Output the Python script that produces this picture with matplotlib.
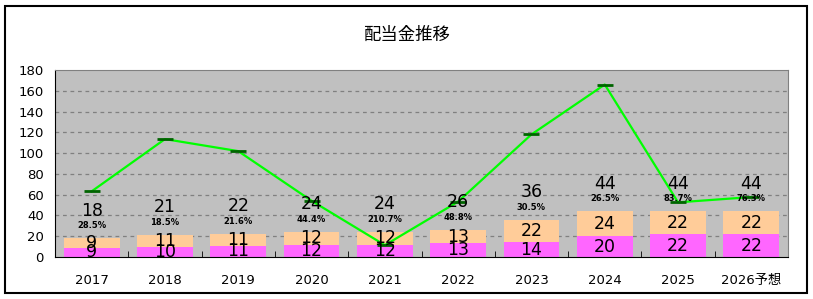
import matplotlib.pyplot as plt
from matplotlib.patches import Rectangle
import numpy as np

plt.rcParams['font.family'] = ['DejaVu Sans', 'Noto Sans CJK JP']

# data
years = ['2017', '2018', '2019', '2020', '2021', '2022', '2023', '2024', '2025', '2026予想']
interim = [9, 10, 11, 12, 12, 13, 14, 20, 22, 22]
year_end = [9, 11, 11, 12, 12, 13, 22, 24, 22, 22]
payout = ['28.5%', '18.5%', '21.6%', '44.4%', '210.7%', '48.8%', '30.5%', '26.5%', '83.7%', '76.3%']
eps = [63.2, 113.5, 101.9, 54.1, 11.4, 53.3, 118.0, 166.0, 52.6, 57.7]

total = [a + b for a, b in zip(interim, year_end)]
x = np.arange(len(years))

fig = plt.figure(figsize=(8.13, 2.99), dpi=100)
fig.patches.append(Rectangle((5 / 813, 6 / 299), 802 / 813, 287 / 299,
                             transform=fig.transFigure, fill=False,
                             edgecolor='black', linewidth=1.5))

ax = fig.add_axes([55 / 813, 42 / 299, 733 / 813, 187 / 299])
ax.set_facecolor('#c0c0c0')

w = 0.76
ax.bar(x, interim, width=w, color='#ff66ff', zorder=2)
ax.bar(x, year_end, width=w, bottom=interim, color='#ffcc99', zorder=2)

ax.plot(x, eps, color='#00ff00', linewidth=1.6, zorder=4)
ax.plot(x, eps, linestyle='none', marker='_', markersize=11,
        markeredgewidth=2, color='#006400', zorder=5)

for i in range(len(x)):
    ax.text(x[i], interim[i] / 2, str(interim[i]), ha='center', va='center',
            fontsize=12.5, zorder=6)
    ax.text(x[i], interim[i] + year_end[i] / 2, str(year_end[i]), ha='center',
            va='center', fontsize=12.5, zorder=6)
    ax.annotate(str(total[i]), (x[i], total[i]), xytext=(0, 20),
                textcoords='offset points', ha='center', va='center',
                fontsize=12.5, zorder=6)
    ax.annotate(payout[i], (x[i], total[i]), xytext=(0, 9),
                textcoords='offset points', ha='center', va='center',
                fontsize=6, fontweight='bold', zorder=6)

ax.set_xlim(-0.5, 9.5)
ax.set_ylim(0, 180)
ax.set_yticks(range(0, 181, 20))
ax.set_xticks(x)
ax.set_xticklabels(years, fontsize=9.5)
ax.tick_params(axis='x', length=0, pad=12)
ax.tick_params(axis='y', length=0, labelsize=9.5, pad=8)
ax.set_xticks(np.arange(0.5, 9.5, 1), minor=True)
ax.tick_params(axis='x', which='minor', direction='in', length=4, color='black')

for v in range(20, 180, 20):
    ax.axhline(v, color='#808080', linestyle=(0, (3, 3)), linewidth=0.9, zorder=1)

ax.spines['top'].set_color('#808080')
ax.spines['right'].set_color('#808080')
ax.spines['left'].set_color('black')
ax.spines['bottom'].set_color('black')

fig.text(406 / 813, 1 - 35 / 299, '配当金推移', ha='center', va='center',
         fontsize=12.5, family='Noto Sans CJK JP')

fig.savefig('out.png', dpi=100)
